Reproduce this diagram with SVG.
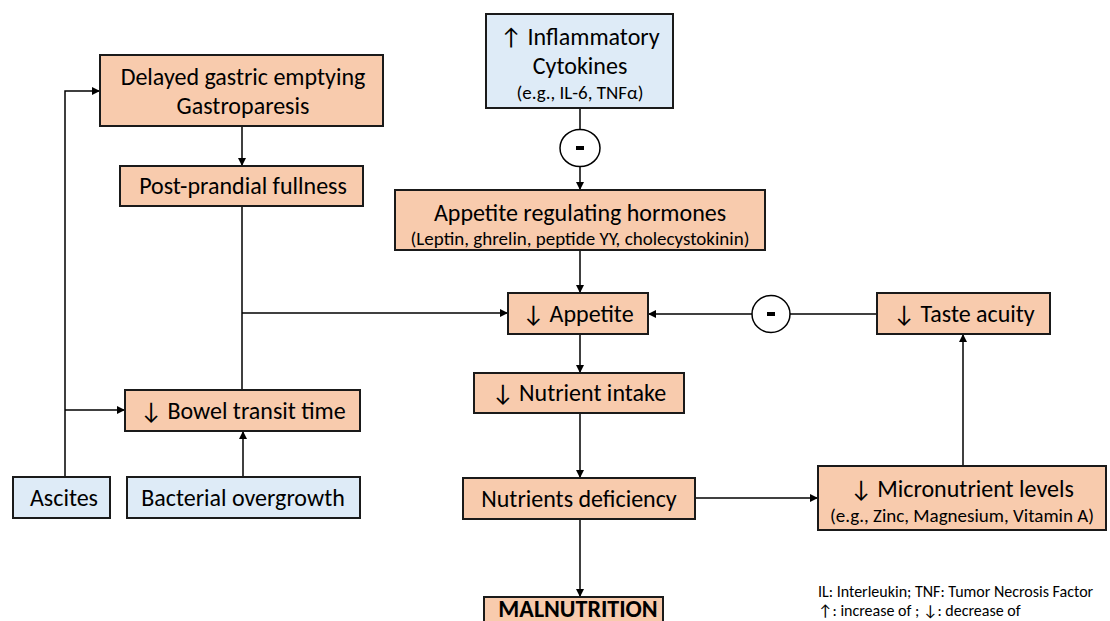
<svg xmlns="http://www.w3.org/2000/svg" width="1110" height="621" viewBox="0 0 1110 621">
<defs>
<marker id="ah" markerWidth="8" markerHeight="8" refX="7" refY="4" orient="auto" markerUnits="userSpaceOnUse">
<path d="M0,0 L8,4 L0,8 Z" fill="#000"/>
</marker>
<style>
.o{fill:#F8CBAD;stroke:#1a1a1a;stroke-width:2}
.b{fill:#DEEBF7;stroke:#1a1a1a;stroke-width:2}
.t{font-family:Carlito,Lato,"Liberation Sans",sans-serif;font-size:24px;fill:#000;text-anchor:middle}
.s{font-family:Carlito,Lato,"Liberation Sans",sans-serif;font-size:19px;fill:#000;text-anchor:middle}
.n{font-family:Carlito,Lato,"Liberation Sans",sans-serif;font-size:16px;fill:#000}
.c{fill:none;stroke:#000;stroke-width:1.5}
.a{fill:none;stroke:#000;stroke-width:1.5;marker-end:url(#ah)}
.ci{fill:#fff;stroke:#000;stroke-width:1.5}
</style>
</defs>
<rect width="1110" height="621" fill="#fff"/>
<g id="connectors">
<path class="a" d="M65,477 V91 H99"/>
<path class="a" d="M65,410 H124"/>
<path class="a" d="M242,126 V165"/>
<path class="c" d="M242,206 V389"/>
<path class="a" d="M242,313 H507"/>
<path class="a" d="M243,477 V432"/>
<path class="c" d="M580,108 V129"/>
<path class="a" d="M580,166 V189"/>
<path class="a" d="M580,250 V292"/>
<path class="a" d="M580,334 V372"/>
<path class="a" d="M580,413 V477"/>
<path class="a" d="M580,519 V596"/>
<path class="c" d="M877,314 H790"/>
<path class="a" d="M752,314 H649"/>
<path class="a" d="M695,498 H817"/>
<path class="a" d="M963,466 V335"/>
</g>
<g id="inhibit1">
<ellipse class="ci" cx="580" cy="148" rx="20" ry="18.5"/>
<rect x="576" y="146" width="8" height="4" fill="#000"/>
</g>
<g id="inhibit2">
<ellipse class="ci" cx="771" cy="314" rx="19" ry="18.5"/>
<rect x="767" y="312" width="8" height="4" fill="#000"/>
</g>
<g id="delayed">
<rect class="o" x="100" y="55" width="283" height="71"/>
<text class="t" x="243" y="85">Delayed gastric emptying</text>
<text class="t" x="243" y="114">Gastroparesis</text>
</g>
<g id="postprandial">
<rect class="o" x="120" y="166" width="243" height="40"/>
<text class="t" x="243" y="194">Post-prandial fullness</text>
</g>
<g id="bowel">
<rect class="o" x="125" y="390" width="235" height="41"/>
<text class="t" x="243" y="419">↓ Bowel transit time</text>
</g>
<g id="ascites">
<rect class="b" x="13" y="477" width="97" height="41"/>
<text class="t" x="64" y="506">Ascites</text>
</g>
<g id="bacterial">
<rect class="b" x="127" y="477" width="233" height="41"/>
<text class="t" x="243" y="506">Bacterial overgrowth</text>
</g>
<g id="cytokines">
<rect class="b" x="486" y="14" width="187" height="94"/>
<text class="t" x="580" y="45">↑ Inflammatory</text>
<text class="t" x="580" y="74">Cytokines</text>
<text class="s" x="580" y="99">(e.g., IL-6, TNFα)</text>
</g>
<g id="hormones">
<rect class="o" x="395" y="190" width="370" height="60"/>
<text class="t" x="580" y="221">Appetite regulating hormones</text>
<text class="s" x="580" y="245">(Leptin, ghrelin, peptide YY, cholecystokinin)</text>
</g>
<g id="appetite">
<rect class="o" x="508" y="293" width="140" height="41"/>
<text class="t" x="578" y="322">↓ Appetite</text>
</g>
<g id="taste">
<rect class="o" x="877" y="293" width="173" height="41"/>
<text class="t" x="964" y="322">↓ Taste acuity</text>
</g>
<g id="intake">
<rect class="o" x="474" y="373" width="210" height="40"/>
<text class="t" x="579" y="401">↓ Nutrient intake</text>
</g>
<g id="deficiency">
<rect class="o" x="463" y="478" width="232" height="41"/>
<text class="t" x="579" y="507">Nutrients deficiency</text>
</g>
<g id="micronutrient">
<rect class="o" x="818" y="466" width="288" height="64"/>
<text class="t" x="962" y="497">↓ Micronutrient levels</text>
<text class="s" x="962" y="522">(e.g., Zinc, Magnesium, Vitamin A)</text>
</g>
<g id="malnutrition">
<rect class="o" x="484" y="597" width="179" height="30"/>
<text class="t" x="578" y="617" font-weight="bold">MALNUTRITION</text>
</g>
<g id="legend">
<text class="n" x="818" y="597">IL: Interleukin; TNF: Tumor Necrosis Factor</text>
<text class="n" x="818" y="616">↑: increase of ; ↓: decrease of</text>
</g>
</svg>
